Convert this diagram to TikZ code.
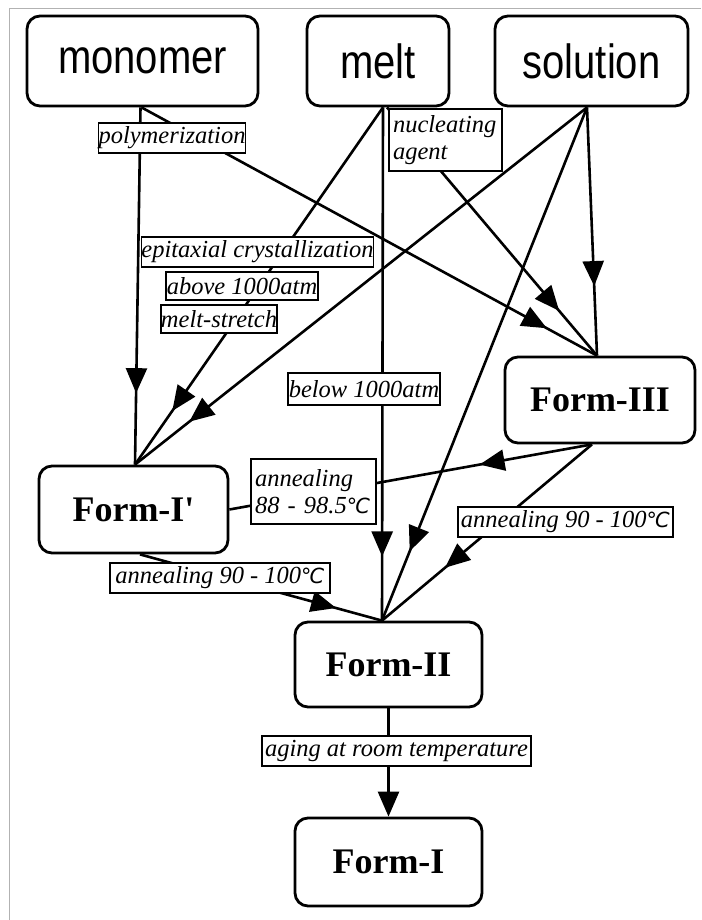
\documentclass[tikz,border=0pt]{standalone}
\usepackage{fontspec}
\setmainfont{Liberation Serif}
\setsansfont{Liberation Sans}
\newfontfamily\degfont[Scale=0.85]{DejaVu Sans}
\usetikzlibrary{arrows.meta,decorations.markings}
\newcommand{\degC}{{\degfont ℃}}
\newcommand{\tallword}[1]{\scalebox{1}[1.2]{#1}}
\newcommand{\straightquote}{{\addfontfeature{Ligatures=TeXOff}'}}

\tikzset{
  state/.style={draw, line width=2.8pt, rounded corners=13pt, fill=white, inner sep=0pt},
  src/.style={state, font=\sffamily\fontsize{40}{40}\selectfont},
  form/.style={state, font=\bfseries\fontsize{36}{36}\selectfont},
  lab/.style={draw, line width=1.5pt, fill=white, inner sep=0pt,
              font=\itshape\fontsize{24.5}{27}\selectfont},
  conn/.style={line width=2.6pt},
  midtip/.style={postaction={decorate},
    decoration={markings, mark=at position #1 with {\arrow{Triangle[length=25pt,width=21pt]}}}},
}

\begin{document}
\begin{tikzpicture}[x=1pt, y=-1pt]
\useasboundingbox (0,0) rectangle (701,920);

% thin frame on the top and left edges
\draw[gray!60, line width=1pt] (9,920) -- (9,9) -- (701,9);

% starting materials
\node[src, minimum width=231pt, minimum height=90pt] (monomer)  at (142.5,61) {\tallword{monomer}};
\node[src, minimum width=142pt, minimum height=90pt] (melt)     at (378,61)   {\tallword{melt}};
\node[src, minimum width=193pt, minimum height=90pt] (solution) at (591.5,61) {\tallword{solution}};

% crystal forms
\node[form, minimum width=190pt, minimum height=86pt] (f3)  at (600,400)     {Form-III};
\node[form, minimum width=189pt, minimum height=87pt] (f1p) at (133.5,509.5) {Form-I\straightquote};
\node[form, minimum width=187pt, minimum height=85pt] (f2)  at (388.5,664.5) {Form-II};
\node[form, minimum width=187pt, minimum height=88pt] (f1)  at (388.5,862)   {Form-I};

% transformations
\draw[conn, midtip=0.80] ([xshift=-2pt]monomer.south) -- ([xshift=1.5pt]f1p.north);
\draw[conn, midtip=0.89] ([xshift=-1pt]monomer.south) -- ([xshift=-3pt]f3.north);
\draw[conn, midtip=0.85] ([xshift=5pt]melt.south) -- ([xshift=1.5pt]f1p.north);
\draw[conn, midtip=0.82] ([xshift=9pt]melt.south) -- ([xshift=-3pt]f3.north);
\draw[conn, midtip=0.875] ([xshift=5pt]melt.south) -- ([xshift=-6.5pt]f2.north);
\draw[conn, midtip=0.88] ([xshift=-4.5pt]solution.south) -- ([xshift=1.5pt]f1p.north);
\draw[conn, midtip=0.865] ([xshift=-4.5pt]solution.south) -- ([xshift=-6.5pt]f2.north);
\draw[conn, midtip=0.72] ([xshift=-4.5pt]solution.south) -- ([xshift=-3pt]f3.north);
\draw[conn, midtip=0.31] ([xshift=-8pt]f3.south) -- (f1p.east);
\draw[conn, midtip=0.70] ([xshift=-8pt]f3.south) -- ([xshift=-6.5pt]f2.north);
\draw[conn, midtip=0.81] ([xshift=6.5pt]f1p.south) -- ([xshift=-6.5pt]f2.north);
\draw[conn, -{Triangle[length=25pt,width=21pt]}] (f2.south) -- (f1.north);

% conditions
\node[lab, minimum width=146pt, minimum height=30pt] (lpoly) at (172,138) {polymerization};
\node[lab, text width=105pt, inner xsep=4pt, minimum height=62pt, align=left] (lnuc) at (445.5,140) {nucleating\\agent};
\node[lab, minimum width=231pt, minimum height=30pt] (lepi) at (257.5,252) {epitaxial crystallization};
\node[lab, minimum width=152pt, minimum height=28pt] (labove) at (242,286) {above 1000atm};
\node[lab, minimum width=116pt, minimum height=28pt] (lstretch) at (219,319) {melt-stretch};
\node[lab, minimum width=152pt, minimum height=32pt] (lbelow) at (364,389) {below 1000atm};
\node[lab, text width=117pt, inner xsep=4pt, minimum height=65pt, align=left] (lann1) at (313.5,491.5) {annealing\\88 - 98.5\degC};
\node[lab, minimum width=215pt, minimum height=30pt] (lann2) at (565.5,522) {annealing 90 - 100\degC};
\node[lab, minimum width=220pt, minimum height=30pt] (lann3) at (220,578) {annealing 90 - 100\degC};
\node[lab, minimum width=269pt, minimum height=30pt] (lage) at (396.5,751) {aging at room temperature};
\end{tikzpicture}
\end{document}
